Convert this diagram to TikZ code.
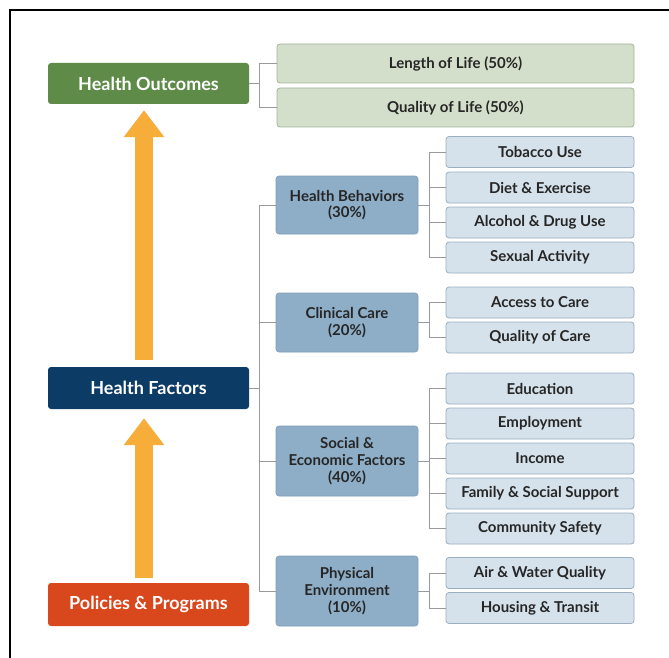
\documentclass[tikz,border=0pt]{standalone}
\usepackage{fontspec}
\setmainfont{Lato}
\usetikzlibrary{arrows.meta}
\definecolor{hogreen}{HTML}{5E8B48}
\definecolor{lifefill}{HTML}{D4DFCB}
\definecolor{lifeline}{HTML}{A3B496}
\definecolor{hfnavy}{HTML}{0C3B66}
\definecolor{pporange}{HTML}{D9481C}
\definecolor{midfill}{HTML}{8EAEC8}
\definecolor{midline}{HTML}{7E9DB6}
\definecolor{leaffill}{HTML}{D6E2EB}
\definecolor{leafline}{HTML}{9AAEBF}
\definecolor{arroworange}{HTML}{F7AD3A}
\definecolor{conngray}{HTML}{9A9A9A}
\definecolor{txtdark}{HTML}{262626}
\tikzset{
  mainbox/.style={rounded corners=3pt, inner sep=0pt, minimum width=201pt, text=white,
    font=\fontsize{18}{20}\selectfont\bfseries},
  lifebox/.style={rounded corners=3pt, inner sep=0pt, fill=lifefill, draw=lifeline, line width=0.8pt,
    minimum width=357pt, minimum height=39pt, text=txtdark, font=\fontsize{15}{17}\selectfont\bfseries},
  midbox/.style={rounded corners=3pt, inner sep=0pt, fill=midfill, draw=midline, line width=0.6pt,
    minimum width=142pt, align=center, text=txtdark, font=\fontsize{15}{16.7}\selectfont\bfseries},
  leafbox/.style={rounded corners=3pt, inner sep=0pt, fill=leaffill, draw=leafline, line width=0.8pt,
    minimum width=188pt, minimum height=31pt, text=txtdark, font=\fontsize{15}{17}\selectfont\bfseries},
  conn/.style={draw=conngray, line width=1pt},
  bigarrow/.style={draw=arroworange, line width=18pt, -{Triangle[width=39pt,length=27pt]}}
}
\begin{document}
\begin{tikzpicture}[x=1pt,y=-1pt]
\useasboundingbox (0,0) rectangle (669,658);
\fill[white] (0,0) rectangle (669,658);
\draw[line width=2pt] (9.5,658) -- (9.5,10) -- (669,10);

% left column
\node[mainbox, fill=hogreen, minimum height=41pt] (HO) at (148.5,83.5) {Health Outcomes};
\node[mainbox, fill=hfnavy, minimum height=42pt] (HF) at (148.5,388) {Health Factors};
\node[mainbox, fill=pporange, minimum height=43pt] (PP) at (148.5,604.5) {Policies \& Programs};

% outcomes
\node[lifebox] (LL) at (455.5,63.5) {Length of Life (50\%)};
\node[lifebox] (QL) at (455.5,107.5) {Quality of Life (50\%)};

% middle
\node[midbox, minimum height=58pt] (HB) at (347,205) {Health Behaviors\\(30\%)};
\node[midbox, minimum height=59pt] (CC) at (347,322.5) {Clinical Care\\(20\%)};
\node[midbox, minimum height=70pt] (SE) at (347,461) {Social \&\\Economic Factors\\(40\%)};
\node[midbox, minimum height=70pt] (PE) at (347,591) {Physical\\Environment\\(10\%)};

% leaves
\node[leafbox] (T1) at (540,152) {Tobacco Use};
\node[leafbox] (T2) at (540,187.5) {Diet \& Exercise};
\node[leafbox] (T3) at (540,222.5) {Alcohol \& Drug Use};
\node[leafbox] (T4) at (540,257.5) {Sexual Activity};
\node[leafbox] (C1) at (540,302.5) {Access to Care};
\node[leafbox] (C2) at (540,337.5) {Quality of Care};
\node[leafbox] (S1) at (540,388.5) {Education};
\node[leafbox] (S2) at (540,423.5) {Employment};
\node[leafbox] (S3) at (540,458.5) {Income};
\node[leafbox] (S4) at (540,493.5) {Family \& Social Support};
\node[leafbox] (S5) at (540,528.5) {Community Safety};
\node[leafbox] (P1) at (540,573) {Air \& Water Quality};
\node[leafbox] (P2) at (540,608) {Housing \& Transit};

% junctions
\coordinate (jO) at (259,83.5);
\coordinate (jF) at (259,388);
\coordinate (jB) at (429,205);
\coordinate (jC) at (429,322.5);
\coordinate (jS) at (429,461);
\coordinate (jP) at (429,591);
\coordinate (ax) at (144,0);

\draw[conn] (HO.east) -- (jO) (jO) |- (LL.west) (jO) |- (QL.west);
\draw[conn] (HF.east) -- (jF) (jF) |- (HB.west) (jF) |- (CC.west) (jF) |- (SE.west) (jF) |- (PE.west);
\draw[conn] (HB.east) -- (jB) (jB) |- (T1.west) (jB) |- (T2.west) (jB) |- (T3.west) (jB) |- (T4.west);
\draw[conn] (CC.east) -- (jC) (jC) |- (C1.west) (jC) |- (C2.west);
\draw[conn] (SE.east) -- (jS) (jS) |- (S1.west) (jS) |- (S2.west) (jS) |- (S3.west) (jS) |- (S4.west) (jS) |- (S5.west);
\draw[conn] (PE.east) -- (jP) (jP) |- (P1.west) (jP) |- (P2.west);

% arrows
\draw[bigarrow, shorten <=5pt, shorten >=9pt] (PP.north -| ax) -- (HF.south -| ax);
\draw[bigarrow, shorten <=7pt, shorten >=6pt] (HF.north -| ax) -- (HO.south -| ax);
\end{tikzpicture}
\end{document}
